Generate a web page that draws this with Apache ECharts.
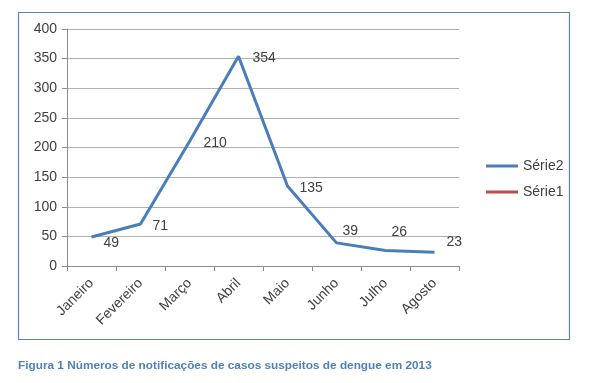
<!DOCTYPE html>
<html><head><meta charset="utf-8">
<script src="https://cdn.jsdelivr.net/npm/echarts@6/dist/echarts.min.js"></script>
<style>html,body{margin:0;padding:0;background:#fff}#c{width:600px;height:383px}</style>
</head><body><div id="c"></div>
<script>
const categories = ['Janeiro','Fevereiro','Março','Abril','Maio','Junho','Julho','Agosto'];
const serie2 = [49, 71, 210, 354, 135, 39, 26, 23];
const serie1 = [];
const caption = 'Figura 1 Números de notificações de casos suspeitos de dengue em 2013';

const labelOffsets = [[10,6],[10,2],[12,2],[12,2],[10,2],[4,-12],[4,-18],[10,-10]];
const chart = echarts.init(document.getElementById('c'));
const font = 'Liberation Sans, Arial, sans-serif';
chart.setOption({
  animation: false,
  grid: {left: 67, top: 29, width: 392, height: 237, containLabel: false},
  xAxis: {
    type: 'category', data: categories, boundaryGap: true,
    axisLine: {lineStyle: {color: '#8c8c8c', width: 1}},
    axisTick: {show: true, length: 5, lineStyle: {color: '#8c8c8c'}},
    axisLabel: {rotate: 45, color: '#404040', fontSize: 14, fontFamily: font, margin: 15}
  },
  yAxis: {
    type: 'value', min: 0, max: 400, interval: 50,
    axisLine: {show: true, lineStyle: {color: '#8c8c8c'}},
    axisTick: {show: true, length: 5, lineStyle: {color: '#8c8c8c'}},
    splitLine: {lineStyle: {color: '#b0b0b0', width: 1}},
    axisLabel: {color: '#404040', fontSize: 14, fontFamily: font, margin: 10}
  },
  legend: {
    orient: 'vertical', left: 481, top: 154, itemGap: 12, itemWidth: 32, itemHeight: 3,
    textStyle: {color: '#404040', fontSize: 14, fontFamily: font},
    data: [{name: 'Série2', icon: 'rect'}, {name: 'Série1', icon: 'rect'}]
  },
  series: [
    {name: 'Série2', type: 'line', symbol: 'circle', symbolSize: 0.01, showSymbol: true,
     color: '#4a7ebb',
     lineStyle: {width: 3, color: '#4a7ebb'},
     data: serie2.map((v, i) => ({value: v, label: {offset: labelOffsets[i]}})),
     label: {show: true, position: 'right', distance: 2, color: '#404040', fontSize: 14, fontFamily: font}},
    {name: 'Série1', type: 'line', symbol: 'none', color: '#be4b48',
     lineStyle: {width: 3, color: '#be4b48'}, data: serie1}
  ],
  graphic: [
    {type: 'rect', shape: {x: 18.5, y: 12.5, width: 551, height: 327}, silent: true,
     style: {fill: 'none', stroke: '#5b85bf', lineWidth: 1.2}},
    {type: 'text', left: 18, top: 360,
     style: {text: caption, fill: '#4f81bd', font: 'bold 11.8px ' + font}}
  ]
});
</script></body></html>
